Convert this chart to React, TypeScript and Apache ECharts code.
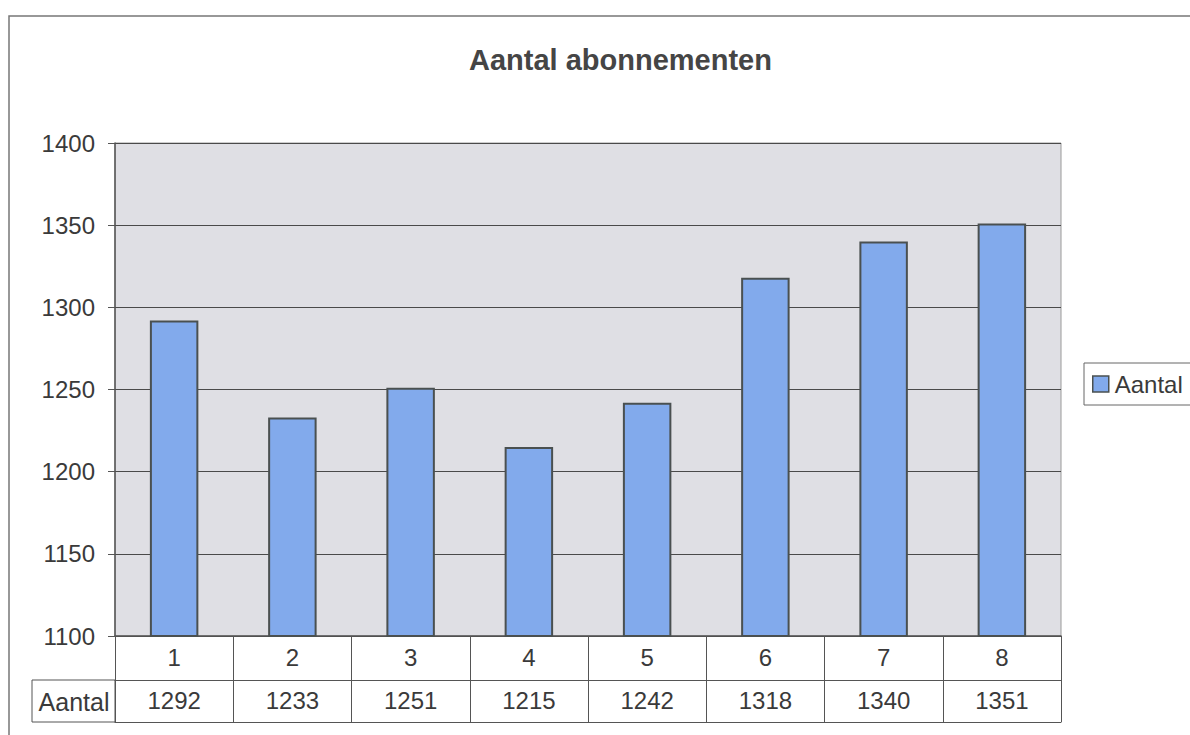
import React, { useEffect, useRef } from "react";
import * as echarts from "echarts";

const title = "Aantal abonnementen";
const seriesName = "Aantal";
const categories = ["1", "2", "3", "4", "5", "6", "7", "8"];
const values = [1292, 1233, 1251, 1215, 1242, 1318, 1340, 1351];
const yMin = 1100;
const yMax = 1400;
const yStep = 50;

const FONT = "'Liberation Sans', Arial, sans-serif";
const TXT = "#3a3a3a";
const LINE = "#555";

export default function App() {
  const ref = useRef<HTMLDivElement>(null);
  useEffect(() => {
    if (!ref.current) return;
    const chart = echarts.init(ref.current, null, { renderer: "svg" });
    const valueLabels = values.map((v) => String(v));
    chart.setOption({
      animation: false,
      backgroundColor: "#ffffff",
      textStyle: { fontFamily: FONT },
      title: {
        text: title,
        left: 464,
        top: 40,
        textStyle: { fontFamily: FONT, fontSize: 29, fontWeight: "bold", color: "#454545" },
      },
      legend: {
        left: 1084,
        top: 363,
        orient: "vertical",
        icon: "rect",
        itemWidth: 16,
        itemHeight: 16,
        itemGap: 4,
        padding: [9, 12, 9, 8],
        borderColor: "#666",
        borderWidth: 1,
        data: [seriesName],
        textStyle: { fontFamily: FONT, fontSize: 24, color: TXT, padding: [0, 0, 0, 1] },
        itemStyle: { borderColor: "#4a5050", borderWidth: 1.5 },
      },
      grid: {
        left: 115,
        right: 129,
        top: 143,
        bottom: 99,
        show: true,
        backgroundColor: "#dfdfe4",
        borderColor: "#9a9a9a",
        borderWidth: 1,
      },
      xAxis: [
        {
          type: "category",
          data: categories,
          position: "bottom",
          axisLine: { show: true, lineStyle: { color: LINE, width: 1.5 } },
          axisTick: { show: true, length: 86, lineStyle: { color: LINE, width: 1 } },
          axisLabel: { fontFamily: FONT, fontSize: 24, color: TXT, margin: 9 },
        },
        {
          type: "category",
          data: valueLabels,
          position: "bottom",
          offset: 44,
          axisLine: { show: true, lineStyle: { color: LINE, width: 1 } },
          axisTick: { show: false },
          axisLabel: { fontFamily: FONT, fontSize: 24, color: TXT, margin: 8 },
        },
        {
          type: "category",
          data: categories,
          position: "bottom",
          offset: 86,
          axisLine: { show: true, lineStyle: { color: LINE, width: 1 } },
          axisTick: { show: false },
          axisLabel: { show: false },
        },
      ],
      yAxis: {
        type: "value",
        min: yMin,
        max: yMax,
        interval: yStep,
        axisLine: { show: true, lineStyle: { color: LINE, width: 1.5 } },
        axisTick: { show: true, length: 7, lineStyle: { color: LINE } },
        axisLabel: {
          fontFamily: FONT,
          fontSize: 24,
          color: TXT,
          margin: 20,
          formatter: (v: number) => String(v),
        },
        splitLine: { show: true, lineStyle: { color: "#4a4a4a", width: 1 } },
      },
      graphic: [
        {
          type: "rect",
          shape: { x: 9, y: 16, width: 1300, height: 900 },
          style: { fill: "none", stroke: "#777", lineWidth: 1.5 },
          silent: true,
        },
        {
          type: "rect",
          shape: { x: 32, y: 680, width: 83, height: 42 },
          style: { fill: "none", stroke: LINE, lineWidth: 1 },
          silent: true,
        },
        {
          type: "text",
          x: 74,
          y: 702,
          style: {
            text: seriesName,
            fontFamily: FONT,
            fontSize: 25,
            fill: TXT,
            align: "center",
            verticalAlign: "middle",
          },
          silent: true,
        },
      ],
      series: [
        {
          name: seriesName,
          type: "bar",
          data: values,
          barWidth: "41%",
          itemStyle: { color: "#82aaec", borderColor: "#4a5050", borderWidth: 2 },
        },
      ],
    });
    return () => chart.dispose();
  }, []);
  return (
    <div
      ref={ref}
      style={{ position: "fixed", left: 0, top: 0, width: 1190, height: 735 }}
    />
  );
}
